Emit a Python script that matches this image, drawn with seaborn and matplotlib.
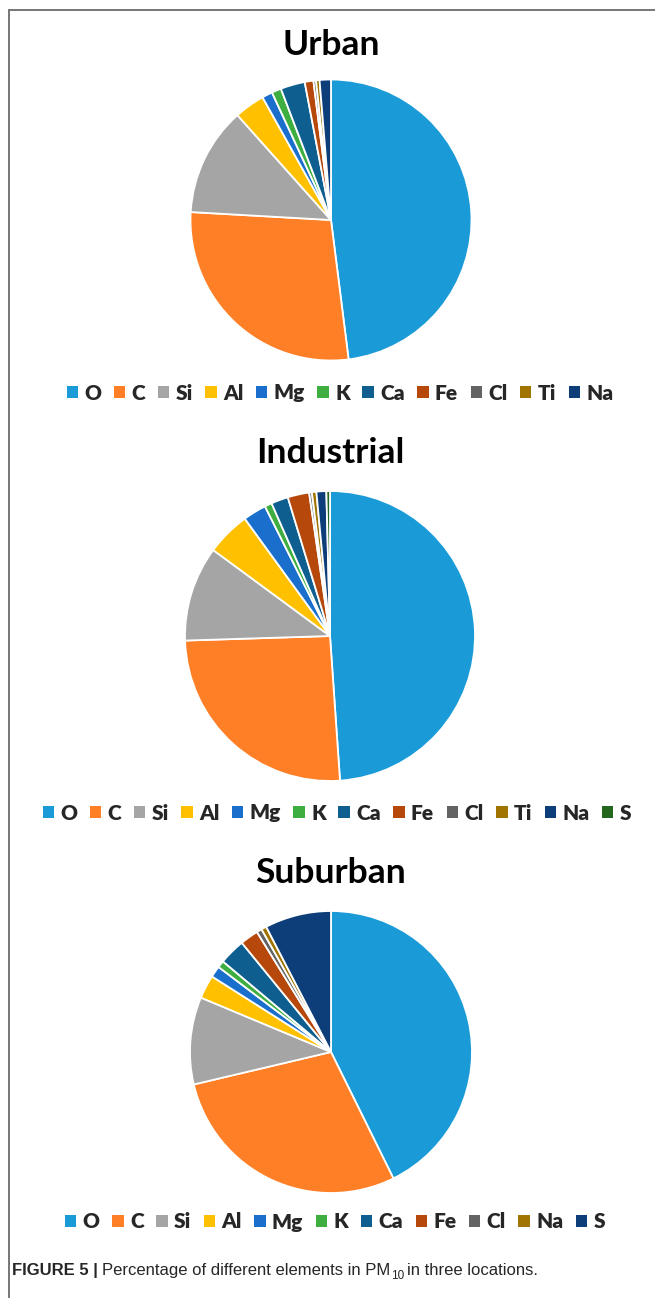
import matplotlib
matplotlib.use("Agg")
import matplotlib.pyplot as plt
import seaborn as sns
from matplotlib.patches import Patch
from matplotlib.lines import Line2D

# Element shares (%) in PM10 at the three sampling locations
urban_elements = ["O", "C", "Si", "Al", "Mg", "K", "Ca", "Fe", "Cl", "Ti", "Na"]
urban_values = [48.0, 27.9, 12.5, 3.5, 1.2, 1.1, 2.8, 1.0, 0.3, 0.4, 1.3]

industrial_elements = ["O", "C", "Si", "Al", "Mg", "K", "Ca", "Fe", "Cl", "Ti", "Na", "S"]
industrial_values = [48.9, 25.6, 10.6, 4.9, 2.6, 0.8, 1.9, 2.4, 0.3, 0.5, 1.1, 0.4]

suburban_elements = ["O", "C", "Si", "Al", "Mg", "K", "Ca", "Fe", "Cl", "Na", "S"]
suburban_values = [42.7, 28.6, 10.0, 2.7, 1.3, 0.8, 3.0, 2.1, 0.6, 0.6, 7.6]

titles = ["Urban", "Industrial", "Suburban"]

# Series colours, assigned by slice position
series_colors = ["#1A9BD7", "#FF7F27", "#A5A5A5", "#FFC000", "#1A6FCC", "#3DAE3F",
                 "#0E5E8F", "#B5480A", "#636363", "#A07400", "#0D3E7A", "#25661F"]

sns.set_theme(style="white")
plt.rcParams["font.family"] = ["Lato", "DejaVu Sans"]

W, H = 655, 1298
fig = plt.figure(figsize=(W / 100, H / 100), dpi=100)
fig.patch.set_facecolor("white")

def fx(px):
    return px / W

def fy(py):
    return 1 - py / H

panels = [
    (urban_elements, urban_values, (331, 220), 140.5, 45, 393, 340),
    (industrial_elements, industrial_values, (330, 636), 145, 453, 813, 337),
    (suburban_elements, suburban_values, (331, 1052), 141, 873, 1222, 335),
]

for (elements, values, (cx, cy), r, ty, ly, lx), title in zip(panels, titles):
    ax = fig.add_axes([fx(cx - r), fy(cy + r), 2 * r / W, 2 * r / H])
    cols = series_colors[:len(values)]
    ax.pie(values, colors=cols, startangle=90, counterclock=False,
           wedgeprops=dict(edgecolor="white", linewidth=1.3))
    ax.set_xlim(-1, 1)
    ax.set_ylim(-1, 1)
    ax.set_aspect("equal")
    ax.axis("off")

    fig.text(fx(cx), fy(ty), title, ha="center", va="center",
             fontsize=25.5, fontweight="bold", color="black")

    handles = [Patch(facecolor=c, edgecolor="none") for c in cols]
    fig.legend(handles, elements, loc="center", bbox_to_anchor=(fx(lx), fy(ly)),
               ncol=len(elements), frameon=False, handlelength=0.55, handleheight=0.55,
               handletextpad=0.3, columnspacing=0.6, borderaxespad=0,
               prop=dict(family="Lato", weight="heavy", size=15))

# frame lines
fig.add_artist(Line2D([fx(9), 1], [fy(10), fy(10)], color="#6b6b6b", lw=1.3))
fig.add_artist(Line2D([fx(9), fx(9)], [fy(10), 0], color="#6b6b6b", lw=1.3))

# caption
fig.canvas.draw()
renderer = fig.canvas.get_renderer()
cap_y = fy(1275)
x0 = fx(12)
cap_size = 12
t1 = fig.text(x0, cap_y, "FIGURE 5 |", fontsize=cap_size, fontweight="bold",
              family="Liberation Sans", va="baseline", ha="left")
bb = t1.get_window_extent(renderer)
x1 = bb.x1 / W + fx(4)
t2 = fig.text(x1, cap_y, "Percentage of different elements in PM", fontsize=cap_size,
              family="Liberation Sans", va="baseline", ha="left")
bb = t2.get_window_extent(renderer)
t3 = fig.text(bb.x1 / W + fx(0.5), cap_y - 4 / H, "10", fontsize=8.5,
              family="Liberation Sans", va="baseline", ha="left")
bb = t3.get_window_extent(renderer)
fig.text(bb.x1 / W + fx(3), cap_y, "in three locations.", fontsize=cap_size,
         family="Liberation Sans", va="baseline", ha="left")

fig.savefig("out.png", dpi=100, facecolor="white")
